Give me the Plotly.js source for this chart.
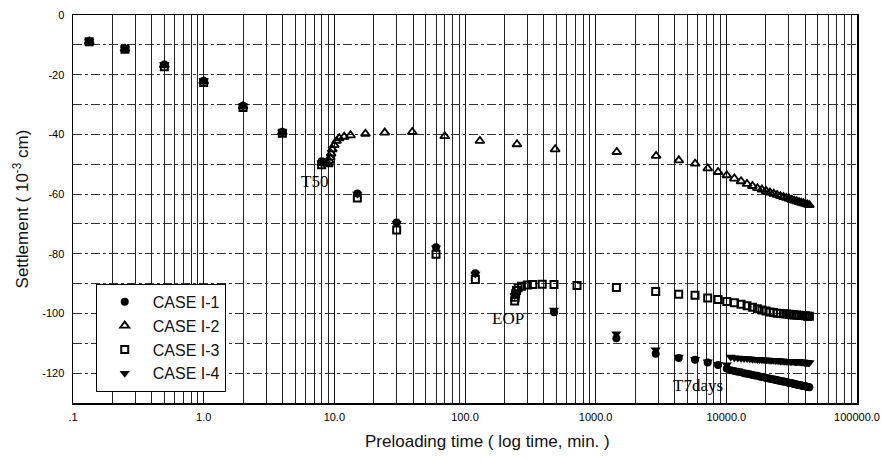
<!DOCTYPE html>
<html><head><meta charset="utf-8">
<script src="https://cdn.plot.ly/plotly-3.0.1.min.js"></script>
<style>html,body{margin:0;padding:0;background:#fff}#chart{width:883px;height:460px}</style>
</head><body><div id="chart"></div>
<script>
// ---- data (time in min, settlement in 10^-3 cm) ----
var tEarly = [0.133, 0.25, 0.5, 1, 2, 4, 8, 15, 30, 60, 120, 240, 480, 1440, 2880, 4320, 5760, 7200, 8640, 10080];
var tHalfDay = [10800,11520,12240,12960,13680,14400,15120,15840,16560,17280,18000,18720,19440,20160,20880,21600,22320,23040,23760,24480,25200,25920,26640,27360,28080,28800,29520,30240,30960,31680,32400,33120,33840,34560,35280,36000,36720,37440,38160,38880,39600,40320,41040,41760,42480,43200];
var tDaily = [10080,11520,12960,14400,15840,17280,18720,20160,21600,23040,24480,25920,27360,28800,30240,31680,33120,34560,36000,37440,38880,40320,41760,43200];

var case1Early = [-8.9,-11.3,-16.6,-22.0,-30.4,-39.2,-49.0,-59.8,-69.5,-77.8,-86.5,-93.8,-99.6,-108.3,-113.5,-114.9,-115.5,-116.4,-117.3,-118.4];
var case1Late = [-119.0,-119.3,-119.5,-119.7,-120.0,-120.2,-120.4,-120.6,-120.8,-120.9,-121.1,-121.3,-121.4,-121.6,-121.7,-121.9,-122.0,-122.1,-122.2,-122.4,-122.5,-122.6,-122.7,-122.8,-122.9,-123.0,-123.1,-123.2,-123.3,-123.4,-123.5,-123.6,-123.7,-123.8,-123.9,-124.0,-124.0,-124.1,-124.2,-124.3,-124.3,-124.4,-124.5,-124.6,-124.6,-124.7];

var case2Times = [0.133,0.25,0.5,1,2,4,8,8.5,9.0,9.15,9.3,9.45,9.65,10.0,10.4,10.9,11.9,13.3,17.3,24.3,39.5,70,130,250,490,1450,2900,4330,5770,7210,8650];
var case2Early = [-8.9,-11.3,-16.8,-22.2,-30.6,-39.3,-49.6,-49.8,-50.0,-48.9,-47.8,-46.4,-45.0,-43.6,-42.2,-41.3,-40.8,-40.3,-39.8,-39.4,-39.2,-40.6,-42.2,-43.3,-45.0,-45.9,-47.2,-48.7,-49.8,-51.4,-52.6];
var case2Late = [-53.7,-54.8,-55.7,-56.6,-57.3,-58.0,-58.5,-59.0,-59.5,-59.9,-60.3,-60.7,-61.0,-61.3,-61.6,-61.9,-62.2,-62.4,-62.7,-62.9,-63.1,-63.3,-63.5,-63.7];

var case3Times = [0.133,0.25,0.5,1,2,4,8,15,30,60,120,240,242,244,248,255,270,300,330,390,480,720,1440,2880,4320,5760,7200,8640];
var case3Early = [-9.0,-11.5,-17.3,-22.6,-31.0,-39.6,-50.2,-61.3,-72.0,-80.2,-88.6,-95.8,-94.6,-93.4,-92.3,-91.4,-90.9,-90.5,-90.3,-90.2,-90.3,-90.6,-91.3,-92.6,-93.6,-93.9,-94.8,-95.3];
var case3Late = [-96.0,-96.4,-96.9,-97.4,-97.9,-98.4,-98.8,-99.2,-99.5,-99.7,-99.9,-100.0,-100.1,-100.2,-100.3,-100.4,-100.5,-100.5,-100.6,-100.7,-100.7,-100.8,-100.9,-100.9];

var case4Early = [-8.9,-11.3,-16.6,-22.0,-30.6,-39.2,-49.5,-60.0,-69.8,-78.0,-86.8,-94.0,-98.8,-106.8,-112.2,-114.6,-115.3,-116.2,-117.0,-117.2];
var case4Late = [-114.6,-114.8,-114.9,-115.0,-115.1,-115.1,-115.2,-115.3,-115.3,-115.4,-115.4,-115.5,-115.5,-115.6,-115.6,-115.7,-115.7,-115.7,-115.8,-115.8,-115.8,-115.9,-115.9,-115.9,-116.0,-116.0,-116.0,-116.0,-116.1,-116.1,-116.1,-116.1,-116.2,-116.2,-116.2,-116.2,-116.3,-116.3,-116.3,-116.3,-116.4,-116.4,-116.4,-116.4,-116.5,-116.5];

var seriesNames = ['CASE I-1', 'CASE I-2', 'CASE I-3', 'CASE I-4'];
var xTickVals = [0.1, 1, 10, 100, 1000, 10000, 100000];
var xTickText = ['.1', '1.0', '10.0', '100.0', '1000.0', '10000.0', '100000.0'];
var yTickVals = [0, -20, -40, -60, -80, -100, -120];
var yTickText = ['0', '-20', '-40', '-60', '-80', '-100', '-120'];
var yMinorVals = [-10, -30, -50, -70, -90, -110, -130];

// minor log grid positions (2..9 per decade)
var xMinor = [];
for (var d = 0; d < 6; d++) { for (var m = 2; m <= 9; m++) { xMinor.push(m * xTickVals[d]); } }

var traces = [
  {x: tEarly.concat(tHalfDay), y: case1Early.concat(case1Late), name: seriesNames[0], legendgroup: 'a',
   mode: 'markers', type: 'scatter', marker: {symbol: 'circle', size: 8, color: '#000'}},
  {x: case2Times.concat(tDaily), y: case2Early.concat(case2Late), name: seriesNames[1], legendgroup: 'b',
   mode: 'markers', type: 'scatter', marker: {symbol: 'triangle-up-open', size: 8, color: '#000', line: {width: 1.8, color: '#000'}}},
  {x: case3Times.concat(tDaily), y: case3Early.concat(case3Late), name: seriesNames[2], legendgroup: 'c',
   mode: 'markers', type: 'scatter', marker: {symbol: 'square-open', size: 7, color: '#000', line: {width: 2, color: '#000'}}},
  {x: tEarly.concat(tHalfDay), y: case4Early.concat(case4Late), name: seriesNames[3], legendgroup: 'd',
   mode: 'markers', type: 'scatter', marker: {symbol: 'triangle-down', size: 9, color: '#000'}}
];

var tickFont = {family: 'Liberation Sans, Arial, sans-serif', size: 11, color: '#000'};
var layout = {
  width: 883, height: 460,
  margin: {l: 73, r: 26, t: 15, b: 57},
  paper_bgcolor: '#fff', plot_bgcolor: '#fff',
  font: {family: 'Liberation Sans, Arial, sans-serif', color: '#000'},
  showlegend: true,
  xaxis: {
    type: 'log', range: [-1, 5], tickmode: 'array', tickvals: xTickVals, ticktext: xTickText,
    showgrid: true, gridcolor: '#111', gridwidth: 1, zeroline: false,
    minor: {tickmode: 'array', tickvals: xMinor, showgrid: true, gridcolor: '#222', gridwidth: 1, ticks: ''},
    showline: true, linecolor: '#000', linewidth: 1.5, mirror: true, ticks: '',
    tickfont: tickFont, ticklabelstandoff: 3, automargin: false
  },
  yaxis: {
    range: [-130, 0], tickmode: 'array', tickvals: yTickVals, ticktext: yTickText,
    showgrid: true, gridcolor: '#333', gridwidth: 1, griddash: 'dashdot', zeroline: false,
    minor: {tickmode: 'array', tickvals: yMinorVals, showgrid: true, gridcolor: '#333', gridwidth: 1, griddash: 'dashdot', ticks: ''},
    showline: true, linecolor: '#000', linewidth: 1.5, mirror: true, ticks: '',
    tickfont: tickFont, ticklabelstandoff: 5, automargin: false,
    title: {text: 'Settlement ( 10<sup>-3</sup> cm)', font: {size: 17, color: '#111'}, standoff: 9}
  },
  legend: {
    x: 0.029, y: 0.307, xanchor: 'left', yanchor: 'top',
    bordercolor: '#000', borderwidth: 1, bgcolor: '#fff',
    font: {size: 16, color: '#111'}, traceorder: 'grouped', tracegroupgap: 0, itemwidth: 46,
    entrywidth: 145, entrywidthmode: 'pixels'
  },
  annotations: [
    {xref: 'paper', yref: 'paper', x: 0.529, y: -0.098, text: 'Preloading time ( log time, min. )', showarrow: false,
     font: {size: 17, color: '#111'}, xanchor: 'center', yanchor: 'middle'},
    {x: Math.log10(7.1), y: -55.7, text: 'T50', showarrow: false, font: {family: 'Liberation Serif, Times New Roman, serif', size: 17, color: '#000'}},
    {x: Math.log10(213), y: -101.7, text: 'EOP', showarrow: false, font: {family: 'Liberation Serif, Times New Roman, serif', size: 17, color: '#000'}},
    {x: Math.log10(6070), y: -124.3, text: 'T7days', showarrow: false, font: {family: 'Liberation Serif, Times New Roman, serif', size: 17, color: '#000'}}
  ]
};

Plotly.newPlot('chart', traces, layout, {displayModeBar: false, staticPlot: true});
</script></body></html>
